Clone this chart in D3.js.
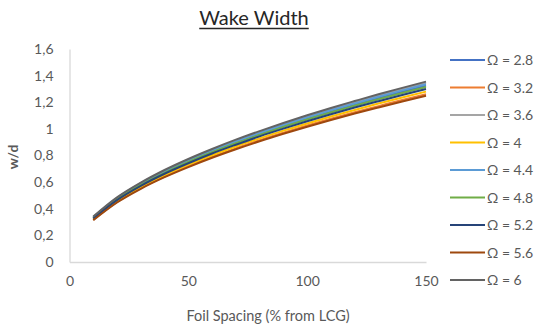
<!DOCTYPE html>
<html><head><meta charset="utf-8">
<script src="https://cdn.jsdelivr.net/npm/d3@7"></script>
<style>body{margin:0;background:#fff}svg{display:block}text{font-family:Lato,"Open Sans",sans-serif}</style>
</head><body><svg id="c" width="541" height="327"></svg>
<script>
const xValues = [10,20,30,40,50,60,70,80,90,100,110,120,130,140,150];
const seriesNames = ["Ω = 2.8","Ω = 3.2","Ω = 3.6","Ω = 4","Ω = 4.4","Ω = 4.8","Ω = 5.2","Ω = 5.6","Ω = 6"];
const seriesColors = ["#4472C4","#ED7D31","#A5A5A5","#FFC000","#5B9BD5","#70AD47","#264478","#9E480E","#636363"];
const w28 = [0.333,0.474,0.583,0.675,0.757,0.831,0.898,0.962,1.021,1.078,1.131,1.182,1.232,1.279,1.325];
const w32 = [0.317,0.451,0.555,0.642,0.720,0.790,0.854,0.915,0.971,1.025,1.076,1.125,1.171,1.217,1.260];
const w36 = [0.338,0.481,0.592,0.685,0.768,0.843,0.912,0.976,1.037,1.094,1.148,1.200,1.250,1.299,1.345];
const w40 = [0.322,0.458,0.563,0.652,0.731,0.802,0.868,0.929,0.987,1.041,1.093,1.142,1.190,1.236,1.280];
const w44 = [0.336,0.478,0.587,0.680,0.762,0.837,0.905,0.969,1.029,1.086,1.140,1.191,1.241,1.289,1.335];
const w48 = [0.331,0.471,0.579,0.670,0.751,0.824,0.892,0.954,1.014,1.070,1.123,1.174,1.223,1.270,1.315];
const w52 = [0.327,0.465,0.572,0.663,0.742,0.815,0.881,0.944,1.002,1.057,1.110,1.160,1.208,1.255,1.300];
const w56 = [0.314,0.447,0.550,0.637,0.713,0.783,0.847,0.907,0.963,1.016,1.067,1.115,1.161,1.206,1.249];
const w60 = [0.341,0.485,0.596,0.691,0.774,0.849,0.919,0.983,1.044,1.102,1.157,1.209,1.260,1.308,1.355];
const seriesValues = [w28,w32,w36,w40,w44,w48,w52,w56,w60];
const xTicks = [0,50,100,150];
const yTicks = [0,0.2,0.4,0.6,0.8,1,1.2,1.4,1.6];
const yTickLabels = ["0","0,2","0,4","0,6","0,8","1","1,2","1,4","1,6"];

const svg = d3.select("#c");
const x = d3.scaleLinear().domain([0,150]).range([69.5,426]);
const y = d3.scaleLinear().domain([0,1.6]).range([262,49]);
const FONT = "Lato,'Open Sans',sans-serif";

// title
const title = svg.append("text").attr("x",254).attr("y",25).attr("text-anchor","middle")
  .attr("font-size",20).attr("fill","#262626").text("Wake Width");
const tb = title.node().getBBox();
svg.append("line").attr("x1",tb.x).attr("x2",tb.x+tb.width).attr("y1",28.5).attr("y2",28.5)
  .attr("stroke","#262626").attr("stroke-width",1.3);

// axes
const xAxis = svg.append("g").attr("transform","translate(0,262)")
  .call(d3.axisBottom(x).tickValues(xTicks).tickSize(0).tickPadding(14).tickFormat(d3.format("d")));
xAxis.select(".domain").attr("stroke","#d9d9d9").attr("stroke-width",1.3);
xAxis.selectAll("text").attr("font-size",14).attr("fill","#595959").attr("font-family",FONT);

const yAxis = svg.append("g").attr("transform","translate(69.5,0)")
  .call(d3.axisLeft(y).tickValues(yTicks).tickSize(0).tickPadding(16).tickFormat((d,i)=>yTickLabels[i]));
yAxis.select(".domain").attr("stroke","#d9d9d9").attr("stroke-width",1.3);
yAxis.selectAll("text").attr("font-size",14).attr("fill","#595959").attr("font-family",FONT);

svg.append("text").attr("x",268).attr("y",321).attr("text-anchor","middle")
  .attr("font-size",14.5).attr("fill","#595959").text("Foil Spacing (% from LCG)");
svg.append("text").attr("transform","translate(18,157) rotate(-90)").attr("text-anchor","middle")
  .attr("font-size",14).attr("font-weight","bold").attr("fill","#595959").text("w/d");

// lines
const line = d3.line().x((d,i)=>x(xValues[i])).y(d=>y(d)).curve(d3.curveMonotoneX);
seriesValues.forEach((vals,k)=>{
  svg.append("path").attr("d",line(vals)).attr("fill","none")
    .attr("stroke",seriesColors[k]).attr("stroke-width",2);
});

// legend
const lg = svg.append("g");
seriesNames.forEach((n,k)=>{
  const yy = 60 + k*27.5;
  lg.append("line").attr("x1",450).attr("x2",485).attr("y1",yy).attr("y2",yy)
    .attr("stroke",seriesColors[k]).attr("stroke-width",2.2);
  lg.append("text").attr("x",487).attr("y",yy+5).attr("font-size",14).attr("fill","#595959").text(n);
});
</script></body></html>
